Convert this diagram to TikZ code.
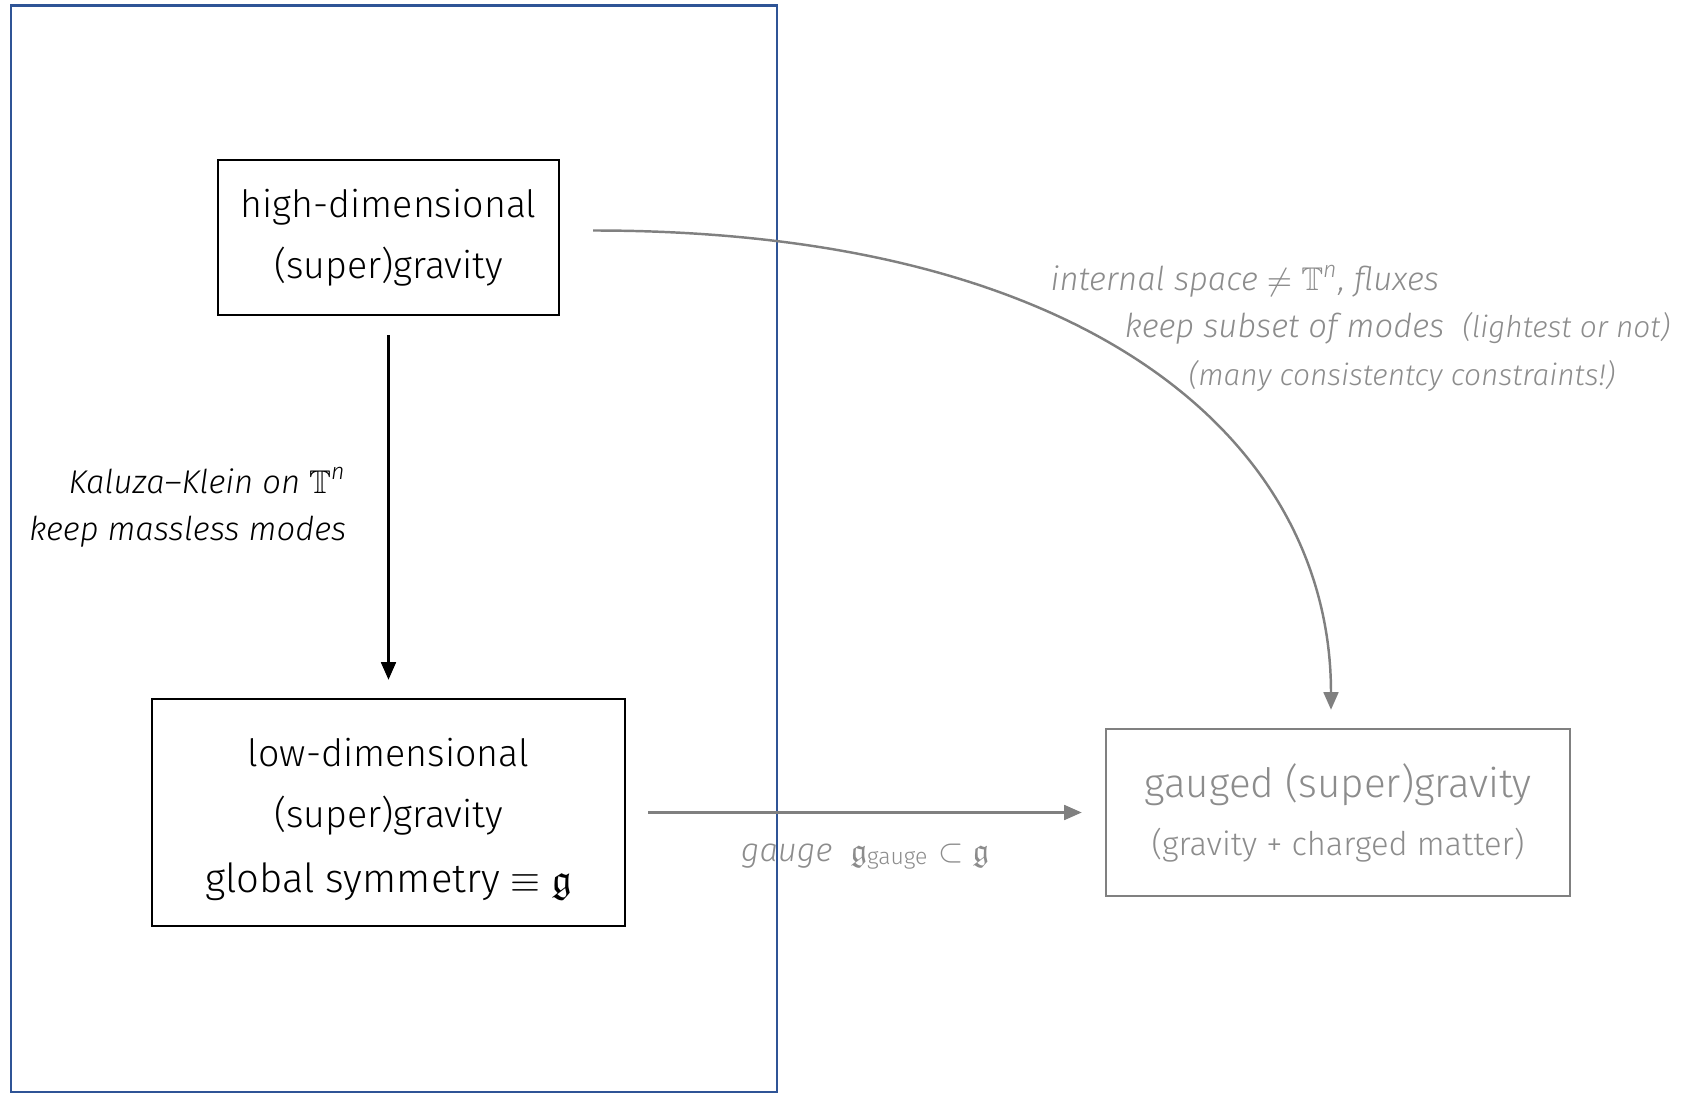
\documentclass[tikz,border=0pt]{standalone}
\usepackage{amssymb, amsmath}
\usepackage{fontspec}
\setmainfont{Fira Sans Light}[ItalicFont={Fira Sans Light Italic}]
\usepackage{tikz}
\usetikzlibrary{calc,arrows.meta}
\usetikzlibrary{positioning}
\definecolor{kk-blue}{HTML}{2F5496}
\definecolor{kk-gray}{HTML}{808080}
\definecolor{kk-text}{HTML}{8C8C8C}

\begin{document}
\begin{tikzpicture}[
    box/.style={draw, line width=0.7pt, align=center, inner sep=0pt,
        font=\fontsize{10.7}{17.4}\selectfont},
    lbl/.style={inner sep=0pt, font=\fontsize{9.35}{13.4}\selectfont\itshape},
    tip/.style={-{Triangle[length=5pt, width=4.2pt]}}
]
    \useasboundingbox (0,0) rectangle (16.88,-10.94);

    % Frame around the Kaluza-Klein side
    \draw[kk-blue, line width=0.6pt] (0.11,-0.055) rectangle (7.77,-10.92);

    % The three theories
    \node[box, minimum width=3.41cm, minimum height=1.55cm] (high) at (3.885,-2.375)
        {high-dimensional\\(super)gravity};
    \node[box, minimum width=4.73cm, minimum height=2.27cm] (low) at (3.885,-8.125)
        {\rule{0pt}{12pt}low-dimensional\\(super)gravity\\[1.3pt]{\fontsize{11.4}{18}\selectfont global symmetry $\equiv\mathfrak{g}$}};
    \node[box, draw=kk-gray, text=kk-text, minimum width=4.64cm, minimum height=1.67cm,
        font=\fontsize{11.5}{16.5}\selectfont] (gauged) at (13.38,-8.125)
        {gauged (super)gravity\\{\fontsize{9.3}{16.5}\selectfont (gravity + charged matter)}};

    % Kaluza-Klein reduction
    \draw[tip, line width=0.7pt] ([yshift=-0.19cm]high.south) -- ([yshift=0.18cm]low.north)
        node[midway, left=0.41cm, lbl, align=right] (kk)
        {Kaluza--Klein on $\mathbb{T}^{\textit{n}}$\\keep massless modes};

    % Gauging
    \draw[tip, kk-gray, line width=0.7pt] ([xshift=0.22cm]low.east) -- ([xshift=-0.23cm]gauged.west)
        node[midway, below=0.3cm, lbl, text=kk-text] (gaugelbl)
        {gauge\ \ $\mathfrak{g}_{\textup{gauge}}\subset\mathfrak{g}$};

    % Direct route: other internal spaces
    \coordinate (curvestart) at ([xshift=0.33cm, yshift=0.07cm]high.east);
    \coordinate (curveend) at ([xshift=-0.07cm, yshift=0.18cm]gauged.north);
    \draw[tip, kk-gray, line width=0.7pt] (curvestart) .. controls +(5.08,0) and +(0,2.61) .. (curveend);

    \node[lbl, text=kk-text, anchor=west] (flux) at (10.50,-2.81)
        {internal space $\neq\mathbb{T}^{\textit{n}}$, fluxes};
    \node[lbl, text=kk-text, anchor=west] (subset) at (11.24,-3.28)
        {keep subset of modes\ \ {\fontsize{8.5}{11}\selectfont(lightest or not)}};
    \node[lbl, text=kk-text] (constr) at (14.02,-3.76)
        {\fontsize{8.5}{11}\selectfont(many consistentcy constraints!)};
\end{tikzpicture}
\end{document}
